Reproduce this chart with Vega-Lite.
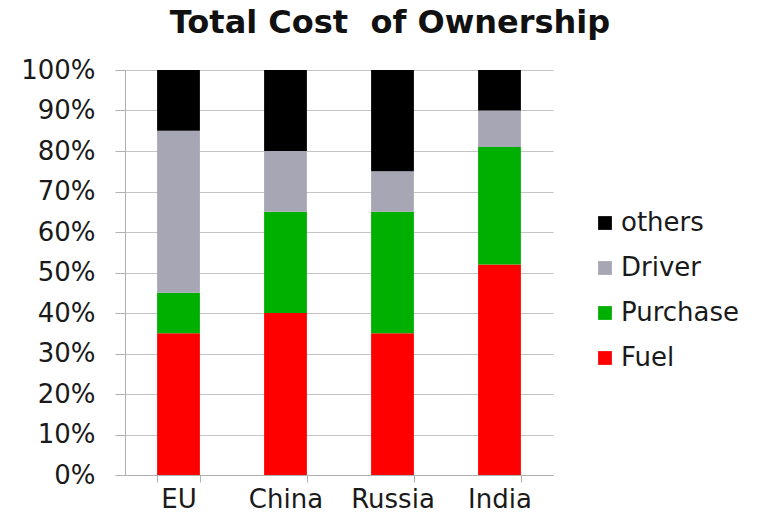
{
  "$schema": "https://vega.github.io/schema/vega-lite/v6.json",
  "autosize": {"type": "none"},
  "padding": {"left": 125, "top": 70, "right": 207, "bottom": 47},
  "width": 428,
  "height": 405,
  "background": "white",
  "title": {
    "text": "Total Cost\u00a0 of Ownership",
    "font": "DejaVu Sans",
    "fontSize": 32,
    "fontWeight": "bold",
    "color": "#111111",
    "anchor": "middle",
    "dx": 51,
    "offset": 17
  },
  "data": {
    "values": [
      {"region": "EU", "part": "Fuel", "rank": 1, "share": 0.35},
      {"region": "EU", "part": "Purchase", "rank": 2, "share": 0.10},
      {"region": "EU", "part": "Driver", "rank": 3, "share": 0.40},
      {"region": "EU", "part": "others", "rank": 4, "share": 0.15},
      {"region": "China", "part": "Fuel", "rank": 1, "share": 0.40},
      {"region": "China", "part": "Purchase", "rank": 2, "share": 0.25},
      {"region": "China", "part": "Driver", "rank": 3, "share": 0.15},
      {"region": "China", "part": "others", "rank": 4, "share": 0.20},
      {"region": "Russia", "part": "Fuel", "rank": 1, "share": 0.35},
      {"region": "Russia", "part": "Purchase", "rank": 2, "share": 0.30},
      {"region": "Russia", "part": "Driver", "rank": 3, "share": 0.10},
      {"region": "Russia", "part": "others", "rank": 4, "share": 0.25},
      {"region": "India", "part": "Fuel", "rank": 1, "share": 0.52},
      {"region": "India", "part": "Purchase", "rank": 2, "share": 0.29},
      {"region": "India", "part": "Driver", "rank": 3, "share": 0.09},
      {"region": "India", "part": "others", "rank": 4, "share": 0.10}
    ]
  },
  "mark": {"type": "bar"},
  "encoding": {
    "x": {
      "field": "region",
      "type": "nominal",
      "sort": ["EU", "China", "Russia", "India"],
      "scale": {"paddingInner": 0.6, "paddingOuter": 0.3},
      "axis": {
        "title": null,
        "labelAngle": 0,
        "labelFont": "DejaVu Sans",
        "labelFontSize": 26,
        "labelColor": "#1a1a1a",
        "labelPadding": 4,
        "tickBand": "extent",
        "tickSize": 7,
        "tickColor": "#b0b0b0",
        "domainColor": "#b0b0b0",
        "grid": false
      }
    },
    "y": {
      "field": "share",
      "type": "quantitative",
      "stack": "zero",
      "scale": {"domain": [0, 1]},
      "axis": {
        "title": null,
        "values": [0, 0.1, 0.2, 0.3, 0.4, 0.5, 0.6, 0.7, 0.8, 0.9, 1],
        "format": ".0%",
        "labelFont": "DejaVu Sans",
        "labelFontSize": 26,
        "labelColor": "#1a1a1a",
        "labelPadding": 20,
        "tickSize": 10,
        "tickColor": "#b0b0b0",
        "domainColor": "#b0b0b0",
        "gridColor": "#c4c4c4",
        "gridWidth": 1
      }
    },
    "color": {
      "field": "part",
      "type": "nominal",
      "scale": {
        "domain": ["others", "Driver", "Purchase", "Fuel"],
        "range": ["#000000", "#a7a6b4", "#00b000", "#ff0000"]
      },
      "legend": {
        "title": null,
        "orient": "none",
        "legendX": 467,
        "legendY": 140,
        "symbolType": "square",
        "symbolSize": 190,
        "symbolStrokeWidth": 0,
        "labelFont": "DejaVu Sans",
        "labelFontSize": 26,
        "labelColor": "#1a1a1a",
        "labelOffset": 3,
        "rowPadding": 19
      }
    },
    "order": {"field": "rank", "type": "quantitative", "sort": "ascending"}
  },
  "config": {"view": {"stroke": null}}
}
